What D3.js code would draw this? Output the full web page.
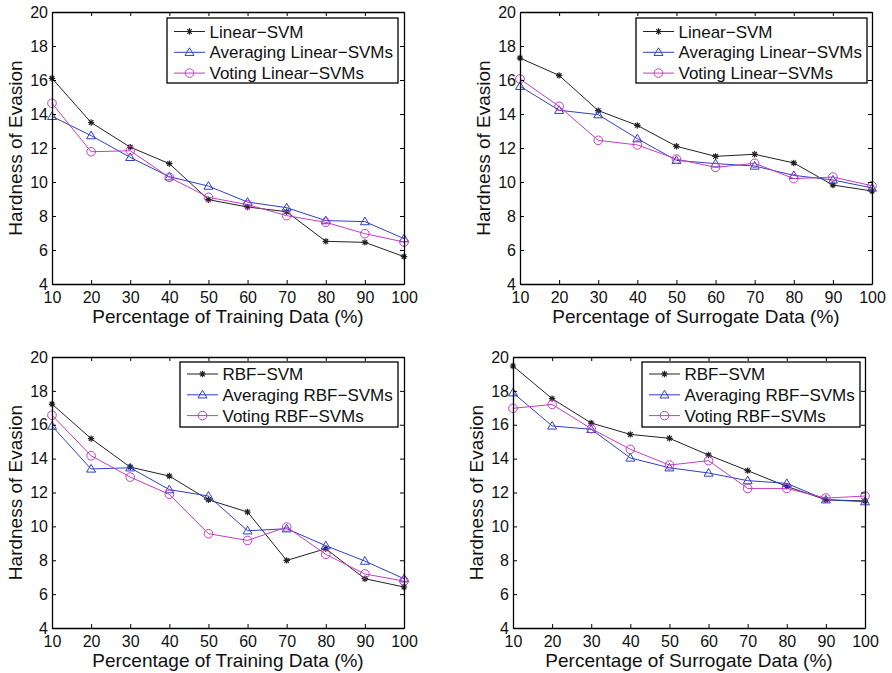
<!DOCTYPE html>
<html>
<head>
<meta charset="utf-8">
<script src="https://cdn.jsdelivr.net/npm/d3@7"></script>
<style>
  body { margin: 0; background: #fff; }
  svg { font-family: "Liberation Sans", Arial, sans-serif; }
</style>
</head>
<body>
<div id="chart"></div>
<script>
var width = 892, height = 673;

var pcts = [10, 20, 30, 40, 50, 60, 70, 80, 90, 100];
var yTicks = [4, 6, 8, 10, 12, 14, 16, 18, 20];

// top left: training data, linear
var linSvmTrain   = [16.1, 13.5, 12.05, 11.08, 8.96, 8.53, 8.25, 6.51, 6.45, 5.61];
var linAvgTrain   = [13.86, 12.73, 11.45, 10.31, 9.76, 8.82, 8.49, 7.73, 7.67, 6.67];
var linVoteTrain  = [14.63, 11.78, 11.84, 10.27, 9.1, 8.67, 8.02, 7.63, 6.96, 6.47];

// top right: surrogate data, linear
var linSvmSurr    = [17.29, 16.27, 14.2, 13.33, 12.1, 11.51, 11.63, 11.12, 9.82, 9.47];
var linAvgSurr    = [15.63, 14.22, 13.96, 12.55, 11.27, 11.08, 10.94, 10.39, 10.12, 9.65];
var linVoteSurr   = [16.06, 14.45, 12.45, 12.18, 11.35, 10.86, 11.1, 10.2, 10.29, 9.78];

// bottom left: training data, rbf
var rbfSvmTrain   = [17.22, 15.18, 13.5, 12.97, 11.57, 10.85, 7.99, 8.68, 6.91, 6.42];
var rbfAvgTrain   = [15.92, 13.39, 13.46, 12.17, 11.79, 9.74, 9.86, 8.86, 7.95, 6.91];
var rbfVoteTrain  = [16.56, 14.17, 12.91, 11.89, 9.57, 9.17, 9.96, 8.35, 7.19, 6.77];

// bottom right: surrogate data, rbf
var rbfSvmSurr    = [19.47, 17.54, 16.1, 15.43, 15.2, 14.21, 13.29, 12.36, 11.57, 11.5];
var rbfAvgSurr    = [17.89, 15.93, 15.73, 14.04, 13.46, 13.15, 12.7, 12.54, 11.57, 11.46];
var rbfVoteSurr   = [16.97, 17.2, 15.77, 14.55, 13.62, 13.88, 12.24, 12.24, 11.67, 11.79];

var linNames = ["Linear\u2212SVM", "Averaging Linear\u2212SVMs", "Voting Linear\u2212SVMs"];
var rbfNames = ["RBF\u2212SVM", "Averaging RBF\u2212SVMs", "Voting RBF\u2212SVMs"];

var colors = ["#222", "#2f3fc4", "#c43cc4"];
var markers = ["star", "triangle", "circle"];

var svg = d3.select("#chart").append("svg")
  .attr("width", width)
  .attr("height", height);

var panels = [
  { l: 52, r: 404, t: 12, b: 284, ylx: 22, xlabel: "Percentage of Training Data (%)",
    names: linNames, series: [linSvmTrain, linAvgTrain, linVoteTrain], lg: [167, 18, 231, 65], row0: 13.5 },
  { l: 520, r: 872, t: 12, b: 284, ylx: 490, xlabel: "Percentage of Surrogate Data (%)",
    names: linNames, series: [linSvmSurr, linAvgSurr, linVoteSurr], lg: [636, 18, 231, 65], row0: 13.5 },
  { l: 52, r: 404, t: 357, b: 628, ylx: 22, xlabel: "Percentage of Training Data (%)",
    names: rbfNames, series: [rbfSvmTrain, rbfAvgTrain, rbfVoteTrain], lg: [180, 362, 218, 65], row0: 12 },
  { l: 513, r: 865, t: 357, b: 628, ylx: 483, xlabel: "Percentage of Surrogate Data (%)",
    names: rbfNames, series: [rbfSvmSurr, rbfAvgSurr, rbfVoteSurr], lg: [642, 362, 218, 65], row0: 12 }
];

function drawMarker(g, type, x, y, col) {
  if (type == "star") {
    var s = 3.2, d = 2.3;
    g.append("path")
      .attr("d", "M" + (x - s) + "," + y + "H" + (x + s) + "M" + x + "," + (y - s) + "V" + (y + s) +
        "M" + (x - d) + "," + (y - d) + "L" + (x + d) + "," + (y + d) +
        "M" + (x - d) + "," + (y + d) + "L" + (x + d) + "," + (y - d))
      .attr("stroke", col).attr("stroke-width", 1.2).attr("fill", "none");
  } else if (type == "triangle") {
    var h = 4.5;
    g.append("path")
      .attr("d", "M" + x + "," + (y - h) + "L" + (x + h) + "," + (y + h * 0.7) + "L" + (x - h) + "," + (y + h * 0.7) + "Z")
      .attr("stroke", col).attr("stroke-width", 1).attr("fill", "none");
  } else {
    g.append("circle").attr("cx", x).attr("cy", y).attr("r", 4.3)
      .attr("stroke", col).attr("stroke-width", 1).attr("fill", "none");
  }
}

panels.forEach(function(p) {
  var x = d3.scaleLinear().domain([10, 100]).range([p.l, p.r]);
  var y = d3.scaleLinear().domain([4, 20]).range([p.b, p.t]);
  var g = svg.append("g");

  // lines + markers
  p.series.forEach(function(vals, i) {
    var line = d3.line()
      .x(function(d, j) { return x(pcts[j]); })
      .y(function(d) { return y(d); });
    g.append("path")
      .datum(vals)
      .attr("d", line)
      .attr("fill", "none")
      .attr("stroke", colors[i])
      .attr("stroke-width", 1);
    vals.forEach(function(v, j) {
      drawMarker(g, markers[i], x(pcts[j]), y(v), colors[i]);
    });
  });

  // frame axes, ticks pointing inward
  g.append("g").attr("transform", "translate(0," + p.b + ")")
    .call(d3.axisBottom(x).tickValues(pcts).tickSizeInner(-4).tickSizeOuter(0).tickPadding(8));
  g.append("g").attr("transform", "translate(" + p.l + ",0)")
    .call(d3.axisLeft(y).tickValues(yTicks).tickSizeInner(-4).tickSizeOuter(0).tickPadding(4));
  g.append("g").attr("transform", "translate(0," + p.t + ")")
    .call(d3.axisTop(x).tickValues(pcts).tickFormat("").tickSizeInner(-4).tickSizeOuter(0));
  g.append("g").attr("transform", "translate(" + p.r + ",0)")
    .call(d3.axisRight(y).tickValues(yTicks).tickFormat("").tickSizeInner(-4).tickSizeOuter(0));

  g.selectAll(".domain").attr("stroke", "#000").attr("stroke-width", 1.3);
  g.selectAll(".tick line").attr("stroke", "#000");
  g.selectAll(".tick text")
    .attr("fill", "#111")
    .style("font-size", "16px")
    .style("font-family", "'Liberation Sans', Arial, sans-serif");

  // axis labels
  g.append("text")
    .attr("x", (p.l + p.r) / 2)
    .attr("y", p.b + 39)
    .attr("text-anchor", "middle")
    .style("font-size", "19px")
    .attr("fill", "#111")
    .text(p.xlabel);
  g.append("text")
    .attr("transform", "translate(" + p.ylx + "," + ((p.t + p.b) / 2) + ") rotate(-90)")
    .attr("text-anchor", "middle")
    .style("font-size", "19px")
    .attr("fill", "#111")
    .text("Hardness of Evasion");

  // legend
  var lg = g.append("g");
  lg.append("rect")
    .attr("x", p.lg[0]).attr("y", p.lg[1])
    .attr("width", p.lg[2]).attr("height", p.lg[3])
    .attr("fill", "#fff").attr("stroke", "#000").attr("stroke-width", 1.3);
  p.names.forEach(function(name, i) {
    var ly = p.lg[1] + p.row0 + i * 20.8;
    var lx = p.lg[0] + 7;
    lg.append("line")
      .attr("x1", lx).attr("x2", lx + 31)
      .attr("y1", ly).attr("y2", ly)
      .attr("stroke", colors[i]).attr("stroke-width", 1);
    drawMarker(lg, markers[i], lx + 15.5, ly, colors[i]);
    lg.append("text")
      .attr("x", p.lg[0] + 42.5).attr("y", ly)
      .attr("dy", "0.36em")
      .style("font-size", "17px")
      .attr("fill", "#111")
      .text(name);
  });
});
</script>
</body>
</html>
